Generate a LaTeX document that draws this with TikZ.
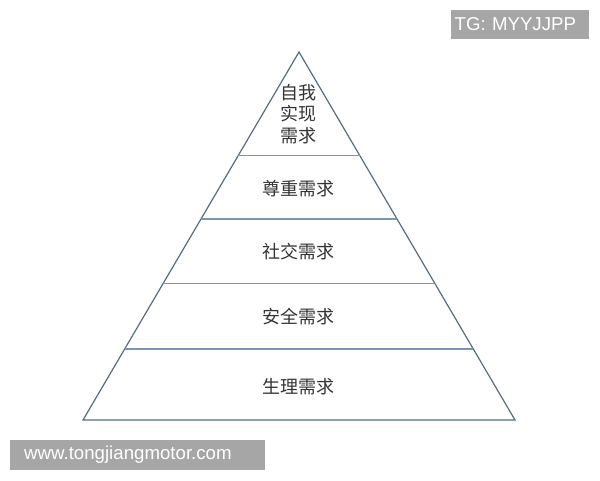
\documentclass[tikz,border=0pt]{standalone}
\usepackage{fontspec}
\usepackage{tikz}
\usetikzlibrary{calc}
\usetikzlibrary{positioning}
\newfontfamily\cjk{Noto Sans CJK SC}
\newfontfamily\wmfont{Liberation Sans}
\definecolor{edgeblue}{HTML}{566C82}
\definecolor{layerblue}{HTML}{7A96B0}
\definecolor{wmgray}{HTML}{A6A6A6}
\definecolor{labelgray}{HTML}{333333}
\tikzset{
  level/.style = {font=\cjk\fontsize{13.5pt}{16pt}\selectfont, text=labelgray},
  mark box/.style = {fill=wmgray, text=white, font=\wmfont\fontsize{14pt}{16pt}\selectfont, align=left, inner ysep=0pt}
}

\begin{document}
\begin{tikzpicture}[x=0.75pt, y=-0.75pt]
\useasboundingbox (0,0) rectangle (600,480);

\coordinate (apex) at (299,52);
\coordinate (bl) at (83,420);
\coordinate (br) at (515,420);

\draw[edgeblue, line width=0.9pt] (apex) -- (bl) -- (br) -- cycle;

% layer lines
\foreach \t/\n in {0.2818/a, 0.4538/b, 0.6285/c, 0.8071/d}{
  \coordinate (l\n) at ($(apex)!\t!(bl)$);
  \coordinate (r\n) at ($(apex)!\t!(br)$);
  \draw[layerblue, line width=1.1pt] (l\n) -- (r\n);
}

\draw (298,114) node[name = top, level, align=center, font=\cjk\fontsize{13.5pt}{16.2pt}\selectfont]{自我\\实现\\需求};
\draw (298,189) node[name = esteem, level]{尊重需求};
\draw (298,252) node[name = social, level]{社交需求};
\draw (298,317) node[name = safety, level]{安全需求};
\draw (298,387) node[name = body, level]{生理需求};

% watermarks
\draw (520,24.5) node[name = tg, mark box, minimum width=103.5pt, minimum height=21.75pt, text width=98pt, inner xsep=2.75pt]{TG: MYYJJPP};
\draw (137.5,455) node[name = site, mark box, minimum width=191.25pt, minimum height=22.5pt, text width=170pt, inner xsep=10.6pt]{www.tongjiangmotor.com};

\end{tikzpicture}
\end{document}
